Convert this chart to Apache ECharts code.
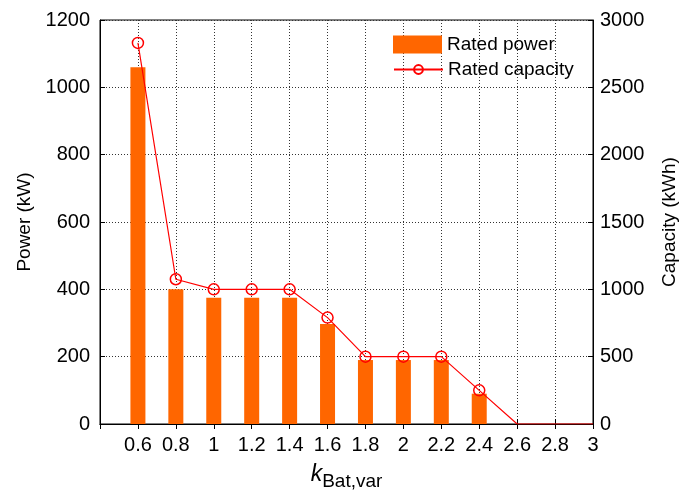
<!DOCTYPE html>
<html>
<head>
<meta charset="utf-8">
<script src="https://cdn.jsdelivr.net/npm/echarts@6/dist/echarts.min.js"></script>
<style>
  html, body { margin: 0; padding: 0; background: #fff; }
  #chart { width: 680px; height: 496px; }
</style>
</head>
<body>
<div id="chart"></div>
<script>
// Battery sizing versus the variability factor k_Bat,var
const kValues = [0.6, 0.8, 1.0, 1.2, 1.4, 1.6, 1.8, 2.0, 2.2, 2.4, 2.6, 2.8, 3.0];
const ratedPower = [1060, 400, 375, 375, 375, 297, 190, 190, 190, 90, 0, 0, 0];       // kW
const ratedCapacity = [2830, 1075, 1000, 1000, 1000, 790, 500, 500, 500, 250, 0, 0, 0]; // kWh

const powerTicks = { min: 0, max: 1200, interval: 200 };
const capacityTicks = { min: 0, max: 3000, interval: 500 };

const FONT = 'Liberation Sans, Arial, sans-serif';
const gridLine = { show: true, lineStyle: { color: '#333', width: 1, type: [1, 2] } };
const tickStyle = { show: true, inside: true, length: 5, lineStyle: { color: '#000' } };

const chart = echarts.init(document.getElementById('chart'), null, { renderer: 'canvas' });

const barData = kValues.map((k, i) => [k, ratedPower[i]]);
const lineData = kValues.map((k, i) => ({
  value: [k, ratedCapacity[i]],
  symbol: ratedCapacity[i] > 0 ? 'circle' : 'none'
}));

chart.setOption({
  animation: false,
  textStyle: { fontFamily: FONT },
  grid: {
    left: 100, right: 87, top: 20, bottom: 72,
    outerBoundsMode: 'none', containLabel: false,
    show: true, borderColor: '#000', borderWidth: 1, backgroundColor: '#fff'
  },
  legend: [
    {
      data: [{ name: 'Rated power', icon: 'rect' }],
      left: 393, top: 35, padding: 0,
      itemWidth: 49, itemHeight: 18, itemGap: 0,
      textStyle: { fontSize: 19, color: '#000', fontFamily: FONT }
    },
    {
      data: ['Rated capacity'],
      left: 393, top: 60, padding: 0,
      itemWidth: 49, itemHeight: 11, itemGap: 0,
      textStyle: { fontSize: 19, color: '#000', fontFamily: FONT }
    }
  ],
  xAxis: [
    {
      type: 'value', min: 0.4, max: 3.0, interval: 0.2, position: 'bottom',
      axisLine: { show: true, lineStyle: { color: '#000' } },
      axisTick: tickStyle,
      axisLabel: {
        color: '#000', fontSize: 20, margin: 11,
        formatter: v => (v < 0.5 ? '' : String(Math.round(v * 10) / 10))
      },
      splitLine: gridLine,
      name: '{k|k}{s|Bat,var}',
      nameLocation: 'middle', nameGap: 34,
      nameTextStyle: {
        rich: {
          k: { fontSize: 23, fontStyle: 'italic', color: '#000', fontFamily: FONT },
          s: { fontSize: 19, color: '#000', fontFamily: FONT, padding: [14, 0, 0, 0] }
        }
      }
    },
    {
      type: 'value', min: 0.4, max: 3.0, interval: 0.2, position: 'top',
      axisLine: { show: true, lineStyle: { color: '#000' } },
      axisTick: tickStyle,
      axisLabel: { show: false }, splitLine: { show: false }
    }
  ],
  yAxis: [
    {
      type: 'value', position: 'left', ...powerTicks,
      axisLine: { show: true, lineStyle: { color: '#000' } },
      axisTick: tickStyle,
      axisLabel: { color: '#000', fontSize: 20, margin: 10, formatter: v => String(v) },
      splitLine: gridLine,
      name: 'Power (kW)', nameLocation: 'middle', nameGap: 56,
      nameTextStyle: { fontSize: 19, color: '#000', fontFamily: FONT }
    },
    {
      type: 'value', position: 'right', ...capacityTicks,
      axisLine: { show: true, lineStyle: { color: '#000' } },
      axisTick: tickStyle,
      axisLabel: { color: '#000', fontSize: 20, margin: 7, formatter: v => String(v) },
      splitLine: { show: false },
      name: 'Capacity (kWh)', nameLocation: 'middle', nameGap: 67,
      nameRotate: 90,
      nameTextStyle: { fontSize: 19, color: '#000', fontFamily: FONT }
    }
  ],
  series: [
    {
      name: 'Rated power', type: 'bar',
      xAxisIndex: 0, yAxisIndex: 0,
      data: barData, barWidth: 15,
      itemStyle: { color: '#FF6600' }
    },
    {
      name: 'Rated capacity', type: 'line',
      xAxisIndex: 0, yAxisIndex: 1,
      data: lineData,
      symbol: 'circle', symbolSize: 11, showAllSymbol: true,
      lineStyle: { color: '#FF0000', width: 1.2 },
      itemStyle: { color: 'none', borderColor: '#FF0000', borderWidth: 1.5 }
    }
  ]
});
</script>
</body>
</html>
